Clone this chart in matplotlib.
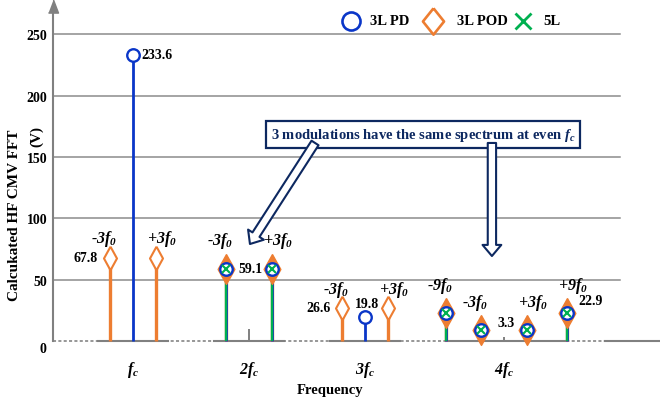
import numpy as np
import matplotlib.pyplot as plt
from matplotlib.patches import FancyArrowPatch, ArrowStyle

plt.rcParams.update({
    "font.family": "Liberation Serif",
    "font.weight": "bold",
    "axes.labelweight": "bold",
    "mathtext.fontset": "custom",
    "mathtext.rm": "Liberation Serif:bold:italic",
    "mathtext.it": "Liberation Serif:bold:italic",
    "mathtext.bf": "Liberation Serif:bold:italic",
})

BLUE = "#0a36c8"
ORANGE = "#ed7d31"
GREEN = "#00b050"
NAVY = "#0d2860"
GRID = "#8c8c8c"
AXIS = "#808080"

# spectral lines: carrier group index and sideband order (0 = carrier itself)
carrier_labels = [r"$f_c$", r"$2f_c$", r"$3f_c$", r"$4f_c$"]
groups = [0, 0, 0, 1, 1, 1, 2, 2, 2, 3, 3, 3, 3, 3]
orders = [-3, 0, 3, -3, 0, 3, -3, 0, 3, -9, -3, 0, 3, 9]

nan = np.nan
pd_3l = [nan, 233.6, nan, 59.1, nan, 59.1, nan, 19.8, nan, 22.9, 9.0, nan, 9.0, 22.9]
pod_3l = [67.8, nan, 67.8, 59.1, nan, 59.1, 26.6, nan, 26.6, 22.9, 9.0, nan, 9.0, 22.9]
five_l = [nan, nan, nan, 59.1, nan, 59.1, nan, nan, nan, 22.9, 9.0, nan, 9.0, 22.9]
residual = [nan, nan, nan, nan, 10.0, nan, nan, nan, nan, nan, nan, 3.3, nan, nan]

# horizontal layout of the schematic frequency axis
carrier_x = [1.0, 2.0, 3.0, 4.2]
order_dx = {-9: -0.5, -3: -0.2, 0: 0.0, 3: 0.2, 9: 0.54}
x = np.array([carrier_x[g] + order_dx[o] for g, o in zip(groups, orders)])

pd_3l = np.array(pd_3l)
pod_3l = np.array(pod_3l)
five_l = np.array(five_l)
residual = np.array(residual)
shared = ~np.isnan(five_l)

fig = plt.figure(figsize=(6.6, 4.06), dpi=100)
ax = fig.add_axes([53 / 660, 64 / 406, 607 / 660, 342 / 406])
x_left, x_right = 0.31, 5.543
ax.set_xlim(x_left, x_right)
ax.set_ylim(0, 278.9)

for s in ["top", "right", "bottom"]:
    ax.spines[s].set_visible(False)
ax.spines["left"].set_color(AXIS)
ax.spines["left"].set_linewidth(1.5)
ax.spines["left"].set_bounds(0, 270)
ax.plot([x_left], [272.8], marker=[(-0.38, -0.5), (0.38, -0.5), (0, 0.5)],
        ms=9.5, color=AXIS, clip_on=False, zorder=2)

# grid lines stop short of the right edge
grid_end = 5.2
for yv in [50, 100, 150, 200, 250]:
    ax.plot([x_left, grid_end], [yv, yv], color=GRID, lw=1.1, zorder=1)

# baseline: dotted everywhere, solid under each harmonic group
ax.plot([x_left, 5.07], [0, 0], color="#7a7a7a", lw=1.1, ls=(0, (2, 1.5)),
        zorder=1, clip_on=False)
for g, c in enumerate(carrier_x):
    gx = x[np.array(groups) == g]
    lo, hi = (c - 0.3, c + 0.3) if g < 3 else (gx.min(), gx.max())
    ax.plot([lo, hi], [0, 0], color=AXIS, lw=1.5, zorder=1.5, clip_on=False)
ax.plot([5.07, x_right], [0, 0], color=AXIS, lw=1.5, zorder=1.5, clip_on=False)

ax.set_yticks([50, 100, 150, 200, 250])
ax.tick_params(axis="y", length=0, pad=4, labelsize=10)
ax.annotate("0", xy=(x_left, 0), xytext=(-5, -5.5), textcoords="offset points",
            ha="right", va="center", fontsize=10)
ax.set_xticks(carrier_x)
ax.set_xticklabels(carrier_labels, fontsize=11.5)
ax.tick_params(axis="x", length=0, pad=13)

# stems
kw = dict(clip_on=False)
ax.vlines(x, 0, residual, color=AXIS, lw=1.4, zorder=2, **kw)
ax.vlines(x, 0, pod_3l, color=ORANGE, lw=2.4, zorder=3, **kw)
ax.vlines(x, 0, pd_3l, color=BLUE, lw=2.0, zorder=3.5, **kw)
ax.vlines(x, 0, five_l, color=GREEN, lw=1.7, zorder=4, **kw)

# markers
diamond = [(0, 1), (0.55, 0), (0, -1), (-0.55, 0), (0, 1)]
fat_diamond = [(0, 1), (0.56, 0), (0, -1), (-0.56, 0), (0, 1)]
ax.plot(x[~shared], pod_3l[~shared], ls="none", marker=diamond, ms=17, mew=1.5,
        mec=ORANGE, mfc="white", zorder=5, **kw)
ax.plot(x[shared], pod_3l[shared], ls="none", marker=fat_diamond, ms=21.5, mew=1.0,
        mec=ORANGE, mfc=ORANGE, zorder=5, **kw)
ax.plot(x, pd_3l, ls="none", marker="o", ms=9, mew=1.7, mec=BLUE, mfc="white",
        zorder=6, **kw)
ax.plot(x, five_l, ls="none", marker="x", ms=5.5, mew=1.5, color=GREEN, zorder=7, **kw)

# sideband order labels
for xi, o, g, a, b in zip(x, orders, groups, pod_3l, five_l):
    if o == 0:
        continue
    top = np.nanmax([a, b])
    dy = 23 if not np.isnan(b) else 16
    txt = ("-" if o < 0 else "+") + r"$%df_0$" % abs(o)
    ax.text(xi + 0.05 * np.sign(o), top + dy, txt, ha="center", va="center",
            fontsize=11.5, style="italic")

# value labels
i = 1
ax.text(x[i] + 0.075, pd_3l[i], f"{pd_3l[i]}", ha="left", va="center", fontsize=10)
i = 0
ax.text(x[i] - 0.1, pod_3l[i], f"{pod_3l[i]}", ha="right", va="center", fontsize=10)
i = 3
ax.text(carrier_x[1] + 0.01, five_l[i], f"{five_l[i]}", ha="center", va="center",
        fontsize=10, zorder=4.5)
i = 6
ax.text(x[i] - 0.1, pod_3l[i] + 1, f"{pod_3l[i]}", ha="right", va="center", fontsize=10)
i = 7
ax.text(x[i] + 0.02, pd_3l[i] + 10.5, f"{pd_3l[i]}", ha="center", va="center", fontsize=10)
i = 13
ax.text(x[i] + 0.1, five_l[i] + 10, f"{five_l[i]}", ha="left", va="center", fontsize=10)
i = 11
ax.text(x[i] + 0.015, residual[i] + 12, f"{residual[i]}", ha="center", va="center", fontsize=10)

# legend
leg_y = 261
ax.plot([2.879], [leg_y], marker="o", ms=13, mew=1.9, mec=BLUE, mfc="white", clip_on=False)
ax.text(3.043, leg_y, "3L PD", ha="left", va="center", fontsize=10.5)
ax.plot([3.586], [leg_y], marker=[(0, 1), (0.8, 0), (0, -1), (-0.8, 0), (0, 1)],
        ms=19, mew=1.9, mec=ORANGE, mfc="white", clip_on=False)
ax.text(3.793, leg_y, "3L POD", ha="left", va="center", fontsize=10.5)
ax.plot([4.362], [leg_y], marker="x", ms=12, mew=2.0, color=GREEN, clip_on=False)
ax.text(4.534, leg_y, "5L", ha="left", va="center", fontsize=10.5)

# callout
ax.text(3.5, 168.4, r"3 modulations have the same spectrum at even $f_c$",
        ha="center", va="center", color=NAVY, fontsize=10.5, zorder=8,
        bbox=dict(boxstyle="square,pad=0.35", fc="white", ec=NAVY, lw=1.6))
style = ArrowStyle.Simple(head_length=0.8, head_width=1.35, tail_width=0.6)
for tail, tip in [((2.569, 161.5), (2.008, 79.1)), ((4.094, 161.5), (4.094, 69.3))]:
    ax.add_patch(FancyArrowPatch(tail, tip, arrowstyle=style, mutation_scale=10,
                                 shrinkA=0, shrinkB=0, fc="white", ec=NAVY, lw=1.5,
                                 zorder=9))

ax.set_xlabel("Frequency", fontsize=10.5)
ax.xaxis.set_label_coords((330 - 53) / 607, -(384 - 342) / 342)
fig.text(15 / 660, 1 - 130 / 406, "Calcukated HF CMV FFT", rotation=90,
         ha="center", va="top", fontsize=11)
fig.text(37 / 660, 1 - 126 / 406, "(V)", rotation=90,
         ha="center", va="top", fontsize=11)

fig.savefig("out.png", dpi=100)
